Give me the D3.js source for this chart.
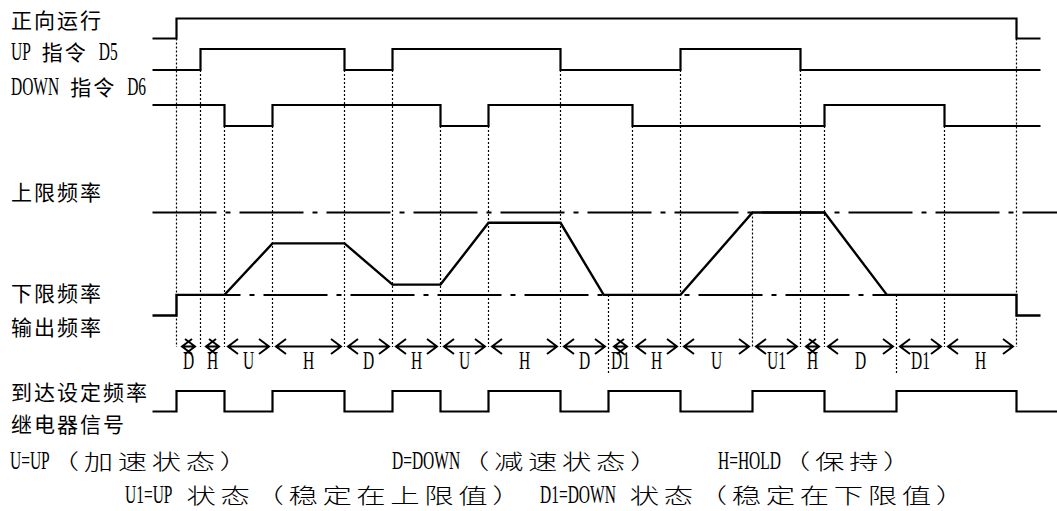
<!DOCTYPE html>
<html>
<head>
<meta charset="utf-8">
<script src="https://cdn.jsdelivr.net/npm/d3@7"></script>
<style>
  html, body { margin: 0; padding: 0; background: #fff; }
  svg { display: block; }
</style>
</head>
<body>
<svg id="chart" width="1057" height="511"></svg>
<script>
// ---- timing data (time in grid steps, levels 0/1, frequency in Hz) ----
const runSignal   = [[0,0],[1,1],[36,0],[37,0]];
const upSignal    = [[0,0],[2,1],[8,0],[10,1],[17,0],[22,1],[27,0],[37,0]];
const downSignal  = [[0,1],[3,0],[5,1],[12,0],[14,1],[20,0],[28,1],[33,0],[37,0]];
const relaySignal = [[0,0],[1,1],[3,0],[5,1],[8,0],[10,1],[12,0],[14,1],[17,0],[19,1],
                     [22,0],[25,1],[28,0],[31,1],[36,0],[37.7,0]];
const outputFreq  = [[0,0],[1,0],[1,10],[3,10],[5,35],[8,35],[10,15],[12,15],[14,45],[17,45],
                     [18.8,10],[22,10],[25,50],[28,50],[30.6,10],[36,10],[36,0],[37,0]];
const lowerLimit = 10;
const upperLimit = 50;

const stateBounds = [1,2,3,5,8,10,12,14,17,19,20,22,25,27,28,31,33,36];
const stateNames  = ['D','H','U','H','D','H','U','H','D','D1','H','U','U1','H','D','D1','H'];
// which trace each vertical guide starts from
const guideSource = ['run','up','down','down','up','up','down','down','up','freq',
                     'down','up','freq','up','down','freq','down','run'];

const rowLabels   = ['正向运行','UP 指令 D5','DOWN 指令 D6','上限频率','下限频率','输出频率','到达设定频率','继电器信号'];
const legendLine1 = ['U=UP（加速状态）','D=DOWN（减速状态）','H=HOLD（保持）'];
const legendLine2 = ['U1=UP 状态（稳定在上限值）','D1=DOWN 状态（稳定在下限值）'];

// ---- scales ----
const svg = d3.select('#chart');
const x = d3.scaleLinear().domain([0, 37]).range([152.5, 1040.5]);
const yF = d3.scaleLinear().domain([0, 50]).range([315.5, 212.5]);
const rows = {
  run:   d3.scaleLinear().domain([0, 1]).range([38.5, 18.5]),
  up:    d3.scaleLinear().domain([0, 1]).range([70, 49]),
  down:  d3.scaleLinear().domain([0, 1]).range([126, 105]),
  relay: d3.scaleLinear().domain([0, 1]).range([411.5, 391])
};

function freqAt(t) {
  for (let i = 1; i < outputFreq.length; i++) {
    const [t0, f0] = outputFreq[i - 1], [t1, f1] = outputFreq[i];
    if (t >= t0 && t <= t1 && t1 > t0) return f0 + (f1 - f0) * (t - t0) / (t1 - t0);
  }
  return 0;
}

// ---- dotted vertical guides ----
const gGuide = svg.append('g');
stateBounds.forEach((t, i) => {
  const src = guideSource[i];
  const top = src === 'freq' ? yF(freqAt(t)) : rows[src](0);
  const startsD1 = stateNames[i] === 'D1';
  gGuide.append('line')
    .attr('x1', x(t)).attr('x2', x(t))
    .attr('y1', top).attr('y2', startsD1 ? 375 : 347)
    .attr('stroke', '#000').attr('stroke-width', 1.2)
    .attr('stroke-dasharray', '2,2');
});

// ---- limit lines (dash-dot) ----
const gLim = svg.append('g')
  .attr('stroke', '#000').attr('stroke-width', 2).attr('fill', 'none')
  .attr('stroke-dasharray', '64,9,5,9');
gLim.append('line').attr('x1', x(0)).attr('x2', x(37.7))
  .attr('y1', yF(upperLimit)).attr('y2', yF(upperLimit));
gLim.append('line').attr('x1', x(1)).attr('x2', x(36))
  .attr('y1', yF(lowerLimit)).attr('y2', yF(lowerLimit));

// ---- digital traces ----
const stepLine = yS => d3.line().x(d => x(d[0])).y(d => yS(d[1])).curve(d3.curveStepAfter);
const gSig = svg.append('g').attr('fill', 'none').attr('stroke', '#000')
  .attr('stroke-width', 2.2).attr('stroke-linejoin', 'miter');
gSig.append('path').attr('d', stepLine(rows.run)(runSignal));
gSig.append('path').attr('d', stepLine(rows.up)(upSignal));
gSig.append('path').attr('d', stepLine(rows.down)(downSignal));
gSig.append('path').attr('d', stepLine(rows.relay)(relaySignal));

// ---- output frequency ----
gSig.append('path')
  .attr('stroke-width', 2.4)
  .attr('d', d3.line().x(d => x(d[0])).y(d => yF(d[1]))(outputFreq));

// ---- state arrows ----
const arrowY = 346.5, head = 10, half = 7.5;
const gArr = svg.append('g').attr('fill', 'none').attr('stroke', '#000').attr('stroke-width', 2);
stateNames.forEach((name, i) => {
  const t0 = stateBounds[i], t1 = stateBounds[i + 1];
  const inset = (t1 - t0) <= 1 ? 5.5 : 3.5;
  const a = x(t0) + inset, b = x(t1) - inset;
  const p = d3.path();
  p.moveTo(a, arrowY); p.lineTo(b, arrowY);
  p.moveTo(a + head, arrowY - half); p.lineTo(a, arrowY); p.lineTo(a + head, arrowY + half);
  p.moveTo(b - head, arrowY - half); p.lineTo(b, arrowY); p.lineTo(b - head, arrowY + half);
  gArr.append('path').attr('d', p.toString());
});

// ---- text helpers ----
const LATIN_FONT = '"Liberation Serif", "DejaVu Serif", serif';
const CJK_FONT = '"Noto Sans CJK SC", "Noto Sans", sans-serif';
const LATIN_SIZE = 25, LATIN_SX = 0.62, CJK_SIZE = 21;

function charKind(ch) {
  if (ch === ' ') return 'space';
  return /[\u2E80-\u9FFF\u3000-\u303F\uFF00-\uFFEF]/.test(ch) ? 'wide' : 'narrow';
}
function splitRuns(s) {
  const runs = [];
  for (const ch of s) {
    const k = charKind(ch);
    const last = runs[runs.length - 1];
    if (last && last.kind === k) last.text += ch; else runs.push({ kind: k, text: ch });
  }
  return runs;
}
// lays out mixed CJK / Latin text run by run: CJK on a fixed pitch, Latin condensed
function drawText(g, s, x0, y, widePitch, wideSX, spaceW, wideWeight) {
  let cx = x0;
  splitRuns(s).forEach(r => {
    if (r.kind === 'space') { cx += spaceW * r.text.length; return; }
    if (r.kind === 'wide') {
      g.append('text')
        .attr('transform', `translate(${cx},${y}) scale(${wideSX},1)`)
        .attr('font-family', CJK_FONT).attr('font-size', CJK_SIZE)
        .attr('font-weight', wideWeight)
        .attr('letter-spacing', widePitch / wideSX - CJK_SIZE)
        .attr('fill', '#000').text(r.text);
      cx += [...r.text].length * widePitch;
    } else {
      const t = g.append('text')
        .attr('transform', `translate(${cx},${y}) scale(${LATIN_SX},1)`)
        .attr('font-family', LATIN_FONT).attr('font-size', LATIN_SIZE)
        .attr('fill', '#000').text(r.text);
      cx += t.node().getComputedTextLength() * LATIN_SX;
    }
  });
}

// ---- row labels ----
const gTxt = svg.append('g');
const rowBaselines = [28, 60, 95, 200, 301, 335, 400, 432];
rowLabels.forEach((s, i) => drawText(gTxt, s, 11, rowBaselines[i], 23, 1, 11, 400));

// ---- state names under the arrows ----
stateNames.forEach((name, i) => {
  const cx = (x(stateBounds[i]) + x(stateBounds[i + 1])) / 2;
  gTxt.append('text')
    .attr('transform', `translate(${cx},369) scale(${LATIN_SX},1)`)
    .attr('text-anchor', 'middle')
    .attr('font-family', LATIN_FONT).attr('font-size', LATIN_SIZE)
    .attr('fill', '#000').text(name);
});

// ---- legend ----
const legend1X = [10, 392, 718];
const legend2X = [125, 540];
legendLine1.forEach((s, i) => drawText(gTxt, s, legend1X[i], 469, 34, 1.4, 14, 300));
legendLine2.forEach((s, i) => drawText(gTxt, s, legend2X[i], 503, 34, 1.4, 14, 300));
</script>
</body>
</html>
